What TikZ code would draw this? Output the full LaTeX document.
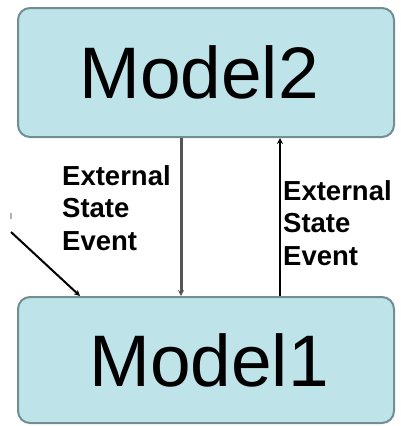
\documentclass[tikz,border=0pt]{standalone}
\usepackage{fontspec}
\setmainfont{Liberation Sans}
\usetikzlibrary{arrows.meta}
\definecolor{boxfill}{HTML}{BEE3E8}
\definecolor{boxline}{HTML}{6F8F92}
\definecolor{darkgrayline}{HTML}{555555}
\tikzset{
  modelbox/.style={draw=boxline, line width=2pt, fill=boxfill, rounded corners=12pt,
    minimum width=376pt, inner sep=0pt, font=\fontsize{73}{73}\selectfont},
  evlabel/.style={align=left, inner sep=0pt, anchor=north west,
    font=\bfseries\fontsize{27.5}{32.5}\selectfont},
  tip/.style={-{Stealth[length=6pt,width=6pt]}}
}
\begin{document}
\begin{tikzpicture}[x=1pt,y=-1pt]
\useasboundingbox (0,0) rectangle (401,426);
\node[modelbox, minimum height=129pt] (m2) at (206,72.5) {\hspace*{-14pt}Model2};
\node[modelbox, minimum height=126pt] (m1) at (206,360) {\hspace*{6pt}Model1};
\draw[darkgrayline, line width=3pt, tip] (m2.south -| 181,0) -- (m1.north -| 181,0);
\draw[black, line width=2pt, tip] (m1.north -| 280,0) -- (m2.south -| 280,0);
\coordinate (d0) at (11,232);
\draw[black, line width=2pt, tip] (d0) -- (m1.north -| 80,0);
\coordinate (m0) at (11,213);
\coordinate (m0b) at (11,219);
\draw[gray!60, line width=2pt] (m0) -- (m0b);
\node[evlabel] (l1) at (62,165) {External\\State\\Event};
\node[evlabel] (l2) at (283,180) {External\\State\\Event};
\end{tikzpicture}
\end{document}
